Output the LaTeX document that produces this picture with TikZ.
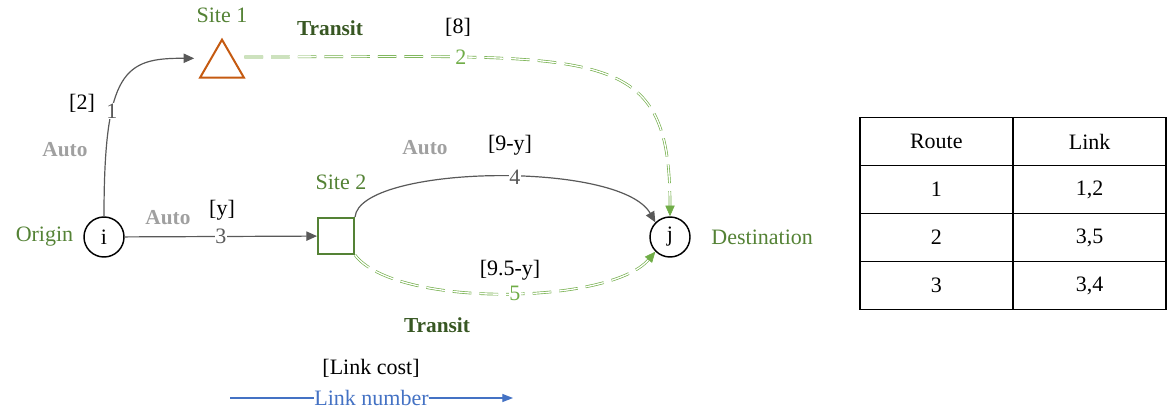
\documentclass[tikz,border=0pt]{standalone}
\usepackage{fontspec}
\setmainfont{Liberation Serif}
\usetikzlibrary{arrows.meta,positioning,shapes.geometric,matrix}
\definecolor{cGrey}{HTML}{595959}
\definecolor{cLight}{HTML}{A0A0A0}
\definecolor{cGr}{HTML}{548235}
\definecolor{cDk}{HTML}{385723}
\definecolor{cLg}{HTML}{70AD47}
\definecolor{cOr}{HTML}{C55A11}
\definecolor{cBl}{HTML}{4472C4}
\tikzset{
  nd/.style={circle,draw,line width=1.1pt,minimum size=30pt,inner sep=0pt},
  tri/.style={regular polygon,regular polygon sides=3,draw=cOr,line width=1.5pt,
              minimum size=38pt,inner sep=0pt},
  sq/.style={rectangle,draw=cGr,line width=1.5pt,minimum size=27pt,inner sep=0pt},
  autolink/.style={-{Triangle[length=8pt,width=7pt]},cGrey,line width=0.9pt},
  translink/.style={-{Triangle[length=8pt,width=7pt]},draw=cLg,line width=0.5pt,
                    double=white,double distance=1pt,dash pattern=on 14pt off 6pt},
  num/.style={fill=white,inner sep=0.5pt},
  cost/.style={inner sep=1pt},
  mode/.style={font=\fontsize{16}{19}\selectfont\bfseries,inner sep=1pt},
  cell/.style={draw,line width=1.4pt,minimum width=115pt,minimum height=36pt,
               inner sep=0pt,anchor=center},
}

\begin{document}
\begin{tikzpicture}[x=0.75pt,y=-0.75pt,font=\fontsize{16.5}{19}\selectfont]
  \useasboundingbox (0,0) rectangle (1169,417);
  % nodes of the network
  \node[nd] (i) at (104,237) {i};
  \node[nd] (j) at (670,237) {j};
  \node[tri] (s1) at (222,65) {};
  \node[sq] (s2) at (336,236) {};
  \node[left=4pt of i,text=cGr] (orig) {Origin};
  \node[right=12pt of j,text=cGr] (dest) {Destination};
  \node[text=cGr] (s1lab) at (222,15) {Site 1};
  \node[text=cGr] (s2lab) at (341,182) {Site 2};
  % links
  \draw[autolink] (i.north) .. controls (104,70) and (125,58) .. ([yshift=5pt,xshift=-9pt]s1.west)
    node[num,pos=0.33,text=cGrey] (n1) {1};
  \draw[translink] ([xshift=5pt,yshift=6pt]s1.east) .. controls (600,57) and (670,40) .. (j.north)
    node[num,pos=0.25,text=cLg] (n2) {2};
  \draw[autolink] (i) -- (s2) node[num,midway,text=cGrey] (n3) {3};
  \draw[autolink] (s2.north east) .. controls (360,165) and (620,160) .. (j.north west)
    node[num,pos=0.55,text=cGrey] (n4) {4};
  \draw[translink] (s2.south east) .. controls (395,308) and (610,305) .. (j.south west)
    node[num,pos=0.53,text=cLg] (n5) {5};
  % costs and modes
  \node[cost] (c1) at (82,103) {[2]};
  \node[cost] (c2) at (458,27) {[8]};
  \node[cost] (c3) at (222,210) {[y]};
  \node[cost] (c4) at (510,145) {[9-y]};
  \node[cost] (c5) at (510,270) {[9.5-y]};
  \node[mode,text=cLight] (m1) at (65,150) {Auto};
  \node[mode,text=cLight] (m3) at (168,218) {Auto};
  \node[mode,text=cLight] (m4) at (425,148) {Auto};
  \node[mode,text=cDk] (m2) at (330,28) {Transit};
  \node[mode,text=cDk] (m5) at (437,325) {Transit};
  % legend
  \coordinate (lg1) at (230,398);
  \coordinate (lg2) at (513,398);
  \draw[-{Triangle[length=8pt,width=6pt]},cBl,line width=0.9pt] (lg1) -- (lg2)
    node[num,midway,text=cBl] (lgnum) {Link number};
  \node[cost] (lgcost) at (371,368) {[Link cost]};
  % route table
  \matrix (tbl) at (1013,213.5) [matrix of nodes,nodes={cell},
      column sep=-1.4pt,row sep=-1.4pt] {
    Route & Link \\
    1 & 1,2 \\
    2 & 3,5 \\
    3 & 3,4 \\
  };
\end{tikzpicture}
\end{document}
